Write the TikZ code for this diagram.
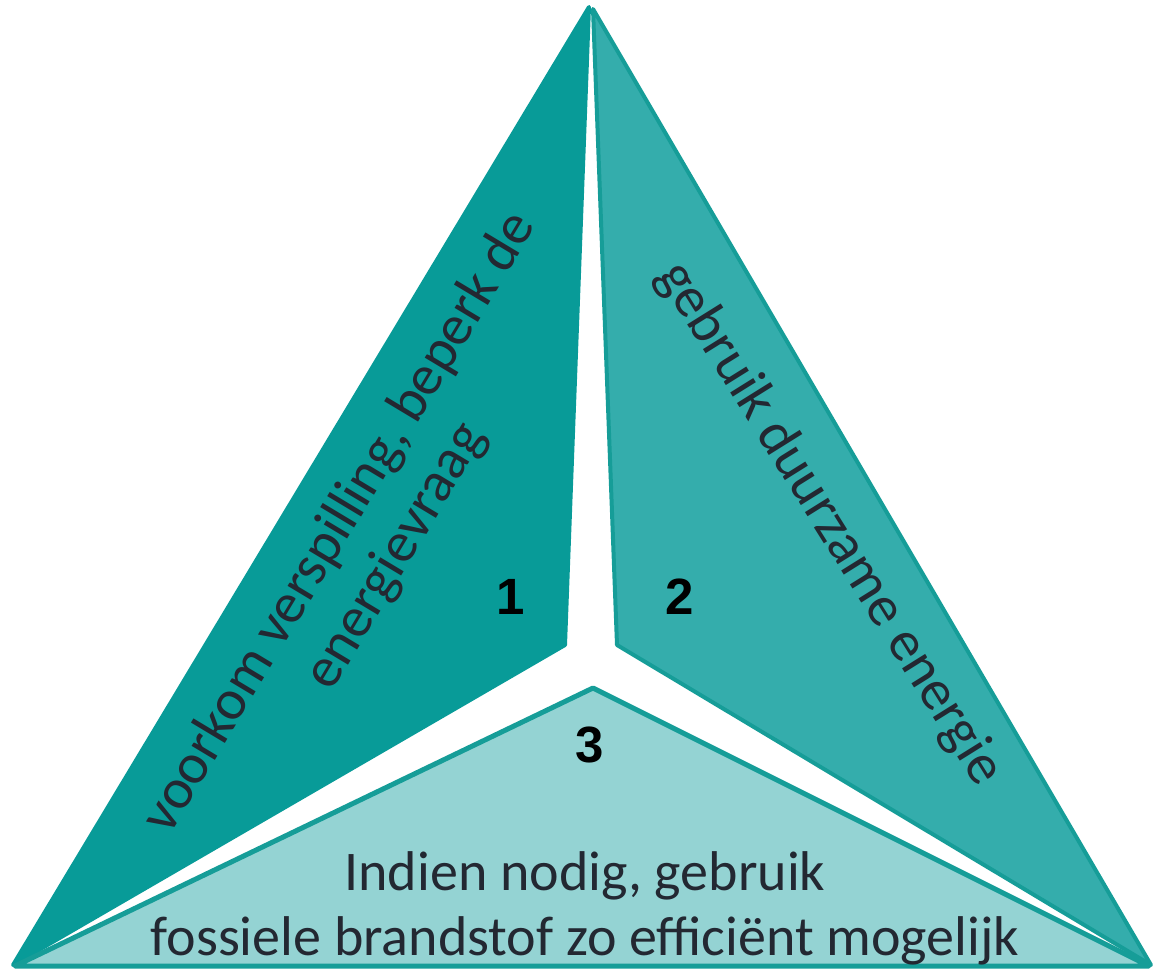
\documentclass[tikz,border=0pt]{standalone}
\usepackage{fontspec}
\setmainfont{Carlito}
\newfontfamily\numfont{Liberation Sans}
\definecolor{darkteal}{RGB}{8,155,152}
\definecolor{midteal}{RGB}{52,173,172}
\definecolor{lightteal}{RGB}{148,211,211}
\definecolor{edgeteal}{RGB}{22,157,152}
\definecolor{txt}{RGB}{35,40,50}
\tikzset{
  piece/.style={draw=edgeteal, line width=4pt, line join=round},
  sidetext/.style={align=center, text=txt, font=\fontsize{57}{65}\selectfont, inner sep=0pt},
  numlabel/.style={text=black, font=\numfont\bfseries\fontsize{51}{60}\selectfont, inner sep=0pt}
}
\begin{document}
\begin{tikzpicture}[x=1pt,y=-1pt]
\useasboundingbox (0,0) rectangle (1157,971);
% corner coordinates
\coordinate (a1) at (589,7);
\coordinate (l1) at (13,965);
\coordinate (c1) at (565,645);
\coordinate (a2) at (593,9);
\coordinate (r2) at (1151,965);
\coordinate (c2) at (617,645);
\coordinate (l3) at (15,966);
\coordinate (c3) at (593,688);
\coordinate (r3) at (1149,966);
% pieces
\fill[darkteal] (a1) -- (c1) -- (l1) -- cycle;
\draw[piece, draw=darkteal] (a1) -- (c1) -- (l1) -- cycle;
\draw[piece, fill=midteal] (a2) -- (r2) -- (c2) -- cycle;
\draw[piece, line width=5pt, fill=lightteal] (l3) -- (c3) -- (r3) -- cycle;
% texts
\node[sidetext, rotate=59] (t1) at (368,540) {voorkom verspilling, beperk de\\energievraag};
\node[sidetext, rotate=-58] (t2) at (830,524) {gebruik duurzame energie};
\node[sidetext, font=\fontsize{56}{65}\selectfont] (t3) at (585,908) {Indien nodig, gebruik\\fossiele brandstof zo efficiënt mogelijk};
% numbers
\node[numlabel] (n1) at (511,597) {1};
\node[numlabel] (n2) at (680,597) {2};
\node[numlabel] (n3) at (590,745) {3};
\end{tikzpicture}
\end{document}
